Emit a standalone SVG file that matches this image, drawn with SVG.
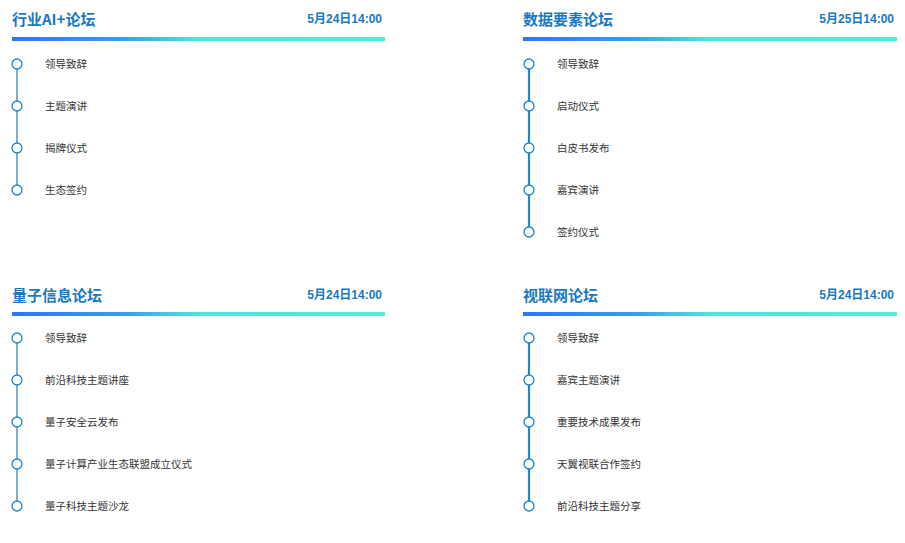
<svg xmlns="http://www.w3.org/2000/svg" width="905" height="543" viewBox="0 0 905 543">
<defs>
<linearGradient id="g" x1="0" x2="1" y1="0" y2="0">
<stop offset="0" stop-color="#2a78f2"/><stop offset="0.3" stop-color="#3a9cec"/><stop offset="0.5" stop-color="#55e2da"/><stop offset="1" stop-color="#58e8d8"/>
</linearGradient>
<style>
.t{font-family:"Noto Sans CJK SC","Liberation Sans",sans-serif;font-size:15px;font-weight:bold;fill:#1a78c2}
.d{font-family:"Liberation Sans","Noto Sans CJK SC",sans-serif;font-size:12px;font-weight:bold;fill:#1a78c2;text-anchor:end}
.i{font-family:"Noto Sans CJK SC",sans-serif;font-size:10.5px;fill:#333}
.c{fill:#fff;stroke:#1e84c8;stroke-width:1.3}
.l1{stroke:#2a78b8;stroke-width:1.2}
.l2{stroke:#1e88c8;stroke-width:2.2}
</style>
</defs>
<g id="connectors">
<line class="l1" x1="17" y1="64" x2="17" y2="190"/>
<line class="l2" x1="529" y1="64" x2="529" y2="232"/>
<line class="l1" x1="17" y1="338" x2="17" y2="506"/>
<line class="l2" x1="529" y1="338" x2="529" y2="506"/>
</g>
<g id="panel1">
<text class="t" x="12" y="25">行业AI+论坛</text><text class="d" x="382" y="23">5月24日14:00</text>
<rect x="12" y="37" width="373" height="4" fill="url(#g)"/>
<circle class="c" cx="17" cy="64" r="5"/><text class="i" x="45" y="68">领导致辞</text>
<circle class="c" cx="17" cy="106" r="5"/><text class="i" x="45" y="110">主题演讲</text>
<circle class="c" cx="17" cy="148" r="5"/><text class="i" x="45" y="152">揭牌仪式</text>
<circle class="c" cx="17" cy="190" r="5"/><text class="i" x="45" y="194">生态签约</text>
</g>
<g id="panel2">
<text class="t" x="523" y="25">数据要素论坛</text><text class="d" x="894" y="23">5月25日14:00</text>
<rect x="523" y="37" width="374" height="4" fill="url(#g)"/>
<circle class="c" cx="529" cy="64" r="5"/><text class="i" x="557" y="68">领导致辞</text>
<circle class="c" cx="529" cy="106" r="5"/><text class="i" x="557" y="110">启动仪式</text>
<circle class="c" cx="529" cy="148" r="5"/><text class="i" x="557" y="152">白皮书发布</text>
<circle class="c" cx="529" cy="190" r="5"/><text class="i" x="557" y="194">嘉宾演讲</text>
<circle class="c" cx="529" cy="232" r="5"/><text class="i" x="557" y="236">签约仪式</text>
</g>
<g id="panel3">
<text class="t" x="12" y="301">量子信息论坛</text><text class="d" x="382" y="299">5月24日14:00</text>
<rect x="12" y="312" width="373" height="4" fill="url(#g)"/>
<circle class="c" cx="17" cy="338" r="5"/><text class="i" x="45" y="342">领导致辞</text>
<circle class="c" cx="17" cy="380" r="5"/><text class="i" x="45" y="384">前沿科技主题讲座</text>
<circle class="c" cx="17" cy="422" r="5"/><text class="i" x="45" y="426">量子安全云发布</text>
<circle class="c" cx="17" cy="464" r="5"/><text class="i" x="45" y="468">量子计算产业生态联盟成立仪式</text>
<circle class="c" cx="17" cy="506" r="5"/><text class="i" x="45" y="510">量子科技主题沙龙</text>
</g>
<g id="panel4">
<text class="t" x="523" y="301">视联网论坛</text><text class="d" x="894" y="299">5月24日14:00</text>
<rect x="523" y="312" width="374" height="4" fill="url(#g)"/>
<circle class="c" cx="529" cy="338" r="5"/><text class="i" x="557" y="342">领导致辞</text>
<circle class="c" cx="529" cy="380" r="5"/><text class="i" x="557" y="384">嘉宾主题演讲</text>
<circle class="c" cx="529" cy="422" r="5"/><text class="i" x="557" y="426">重要技术成果发布</text>
<circle class="c" cx="529" cy="464" r="5"/><text class="i" x="557" y="468">天翼视联合作签约</text>
<circle class="c" cx="529" cy="506" r="5"/><text class="i" x="557" y="510">前沿科技主题分享</text>
</g>
</svg>
